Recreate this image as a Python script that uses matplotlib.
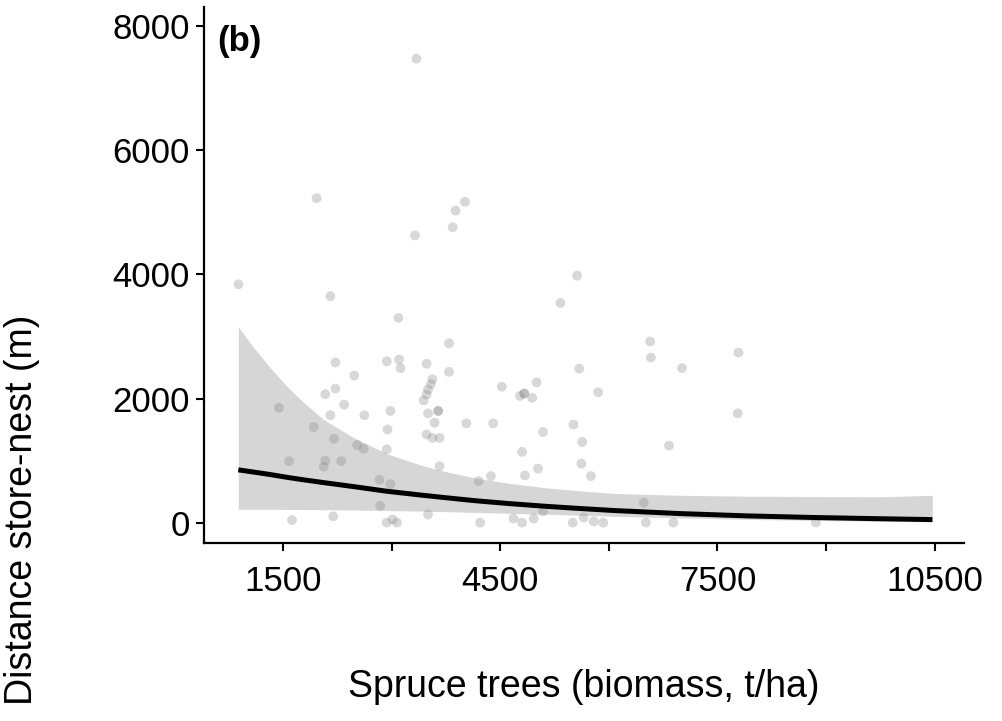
import numpy as np
import matplotlib
matplotlib.use("Agg")
import matplotlib.pyplot as plt
from matplotlib.ticker import FixedLocator

plt.rcParams['font.family'] = ['Liberation Sans', 'DejaVu Sans']

# observed stores: spruce biomass (t/ha) vs distance store-nest (m)
spruce = [3340, 1960, 3320, 3840, 3880, 4010, 880, 5560, 5330, 2150,
          3090, 2220, 2930, 3100, 3120, 2480, 2220, 2080, 2340, 1440,
          2150, 2620, 2980, 1920, 2200, 2940, 2520, 2610, 2930, 1580,
          2080, 2060, 2300, 2830, 2980, 2840, 1620, 2190, 2930, 3010,
          3070, 3500, 4220, 4200, 4370, 3660, 3790, 3480, 3790, 3560,
          3540, 3500, 3480, 3440, 3500, 3640, 4520, 5000, 4830, 4770,
          4940, 5590, 5850, 3590, 4030, 4400, 5510, 3480, 3560, 3660,
          5090, 5630, 4800, 5020, 4840, 5620, 5750, 4680, 4800, 4960,
          5090, 5500, 5650, 5790, 5920, 6570, 6580, 7010, 7790, 7780,
          6830, 6480, 6510, 6890, 8860, 3640, 4830]
distance = [7480, 5230, 4630, 4760, 5030, 5170, 3840, 3980, 3540, 3650,
            3300, 2580, 2600, 2630, 2490, 2370, 2160, 2070, 1900, 1850,
            1730, 1730, 1800, 1540, 1350, 1500, 1250, 1190, 1180, 990,
            1000, 900, 990, 690, 620, 270, 40, 100, 0, 50,
            0, 130, 0, 670, 750, 910, 2890, 2560, 2430, 2310,
            2230, 2145, 2065, 1970, 1760, 1800, 2190, 2260, 2080, 2040,
            2010, 2480, 2100, 1610, 1600, 1600, 1580, 1420, 1365, 1365,
            1460, 1300, 1140, 870, 760, 950, 750, 65, 0, 65,
            180, 0, 80, 20, 0, 2920, 2660, 2490, 2740, 1760,
            1240, 320, 0, 0, 0, 1800, 2080]

# fitted curve and confidence band
fit_x = [878, 1085, 1316, 1547, 1776, 2053, 2470, 2929, 3389, 3711,
         4173, 4633, 5093, 5555, 6061, 6982, 7904, 8825, 9746, 10470]
fit_y = [850, 815, 775, 730, 690, 645, 580, 505, 445, 405,
         350, 305, 265, 230, 195, 145, 108, 82, 62, 48]
ci_upper = [3155, 2830, 2500, 2200, 1940, 1665, 1370, 1110, 930, 830,
            715, 630, 565, 515, 470, 440, 425, 420, 415, 440]
ci_lower = [215, 215, 214, 212, 210, 207, 202, 195, 185, 177,
            163, 150, 135, 120, 102, 75, 52, 35, 22, 12]

x_major = [1500, 4500, 7500, 10500]
x_minor = [3000, 6000, 9000]
y_ticks = [0, 2000, 4000, 6000, 8000]

fig = plt.figure(figsize=(10.02, 7.21), dpi=100)
ax = fig.add_axes([0.2036, 0.2469, 0.7584, 0.7434])

ax.fill_between(fit_x, ci_lower, ci_upper, color='#999999', alpha=0.4,
                linewidth=0, zorder=1)
ax.scatter(spruce, distance, s=50, color='grey', alpha=0.3,
           edgecolors='none', zorder=2)
ax.plot(fit_x, fit_y, color='black', lw=3.6, solid_capstyle='butt', zorder=3)

ax.set_xlim(404, 10906)
ax.set_ylim(-329, 8311)

ax.xaxis.set_major_locator(FixedLocator(x_major))
ax.xaxis.set_minor_locator(FixedLocator(x_minor))
ax.set_yticks(y_ticks)
ax.set_xticklabels([str(v) for v in x_major])
ax.set_yticklabels([str(v) for v in y_ticks])

for s in ['top', 'right']:
    ax.spines[s].set_visible(False)
for s in ['left', 'bottom']:
    ax.spines[s].set_linewidth(1.6)

ax.tick_params(axis='both', which='both', length=6, width=1.5,
               direction='out', colors='black')
ax.tick_params(axis='x', which='major', labelsize=25, pad=10)
ax.tick_params(axis='y', which='major', labelsize=25, pad=4)

ax.text(0.018, 0.966, '(b)', transform=ax.transAxes, fontsize=25,
        fontweight='bold', ha='left', va='top')

fig.text(0.5823, 0.0333, 'Spruce trees (biomass, t/ha)', fontsize=27,
         ha='center', va='baseline')
fig.text(0.022, 0.2926, 'Distance store-nest (m)', fontsize=27,
         rotation=90, ha='center', va='center')

fig.savefig('out.png', dpi=100, facecolor='white')
